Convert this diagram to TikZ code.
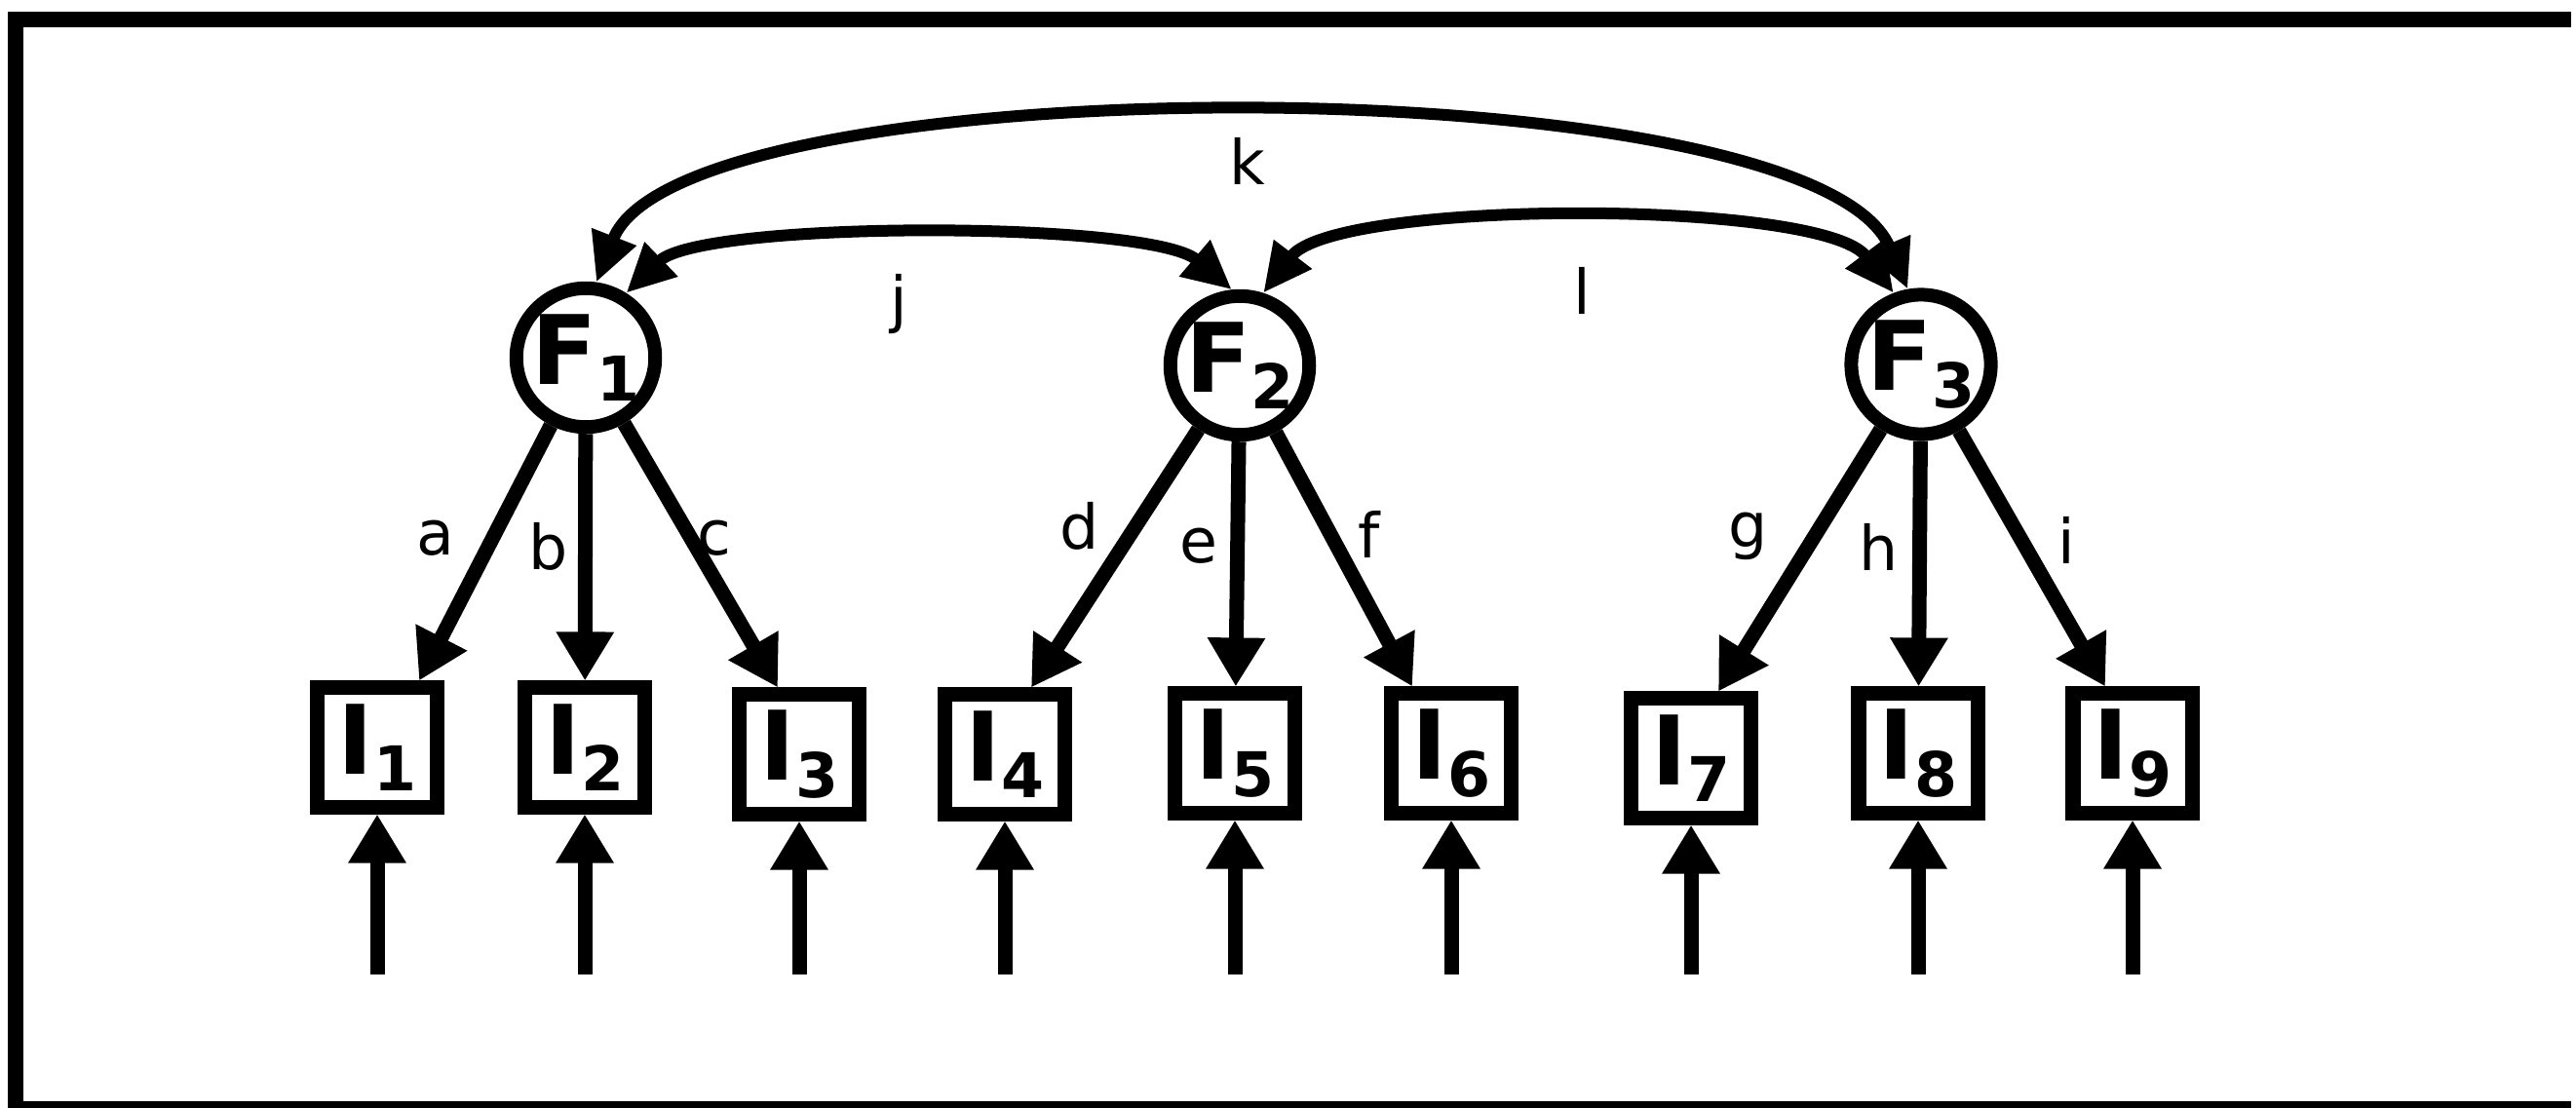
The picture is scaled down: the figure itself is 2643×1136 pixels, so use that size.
\documentclass[tikz,border=0pt]{standalone}
\usepackage{fontspec}
\setmainfont{DejaVu Sans}
\usetikzlibrary{arrows.meta}
\tikzset{
  frame/.style={line width=0.15cm},
  fac/.style={circle, draw, line width=0.14cm, minimum size=1.36cm, inner sep=0pt,
    font=\fontsize{28}{28}\selectfont\bfseries},
  ind/.style={rectangle, draw, line width=0.15cm, minimum size=1.22cm, inner sep=0pt,
    font=\fontsize{28}{28}\selectfont\bfseries},
  load/.style={line width=0.15cm, -{Triangle[length=0.5cm,width=0.56cm]}},
  cov/.style={line width=0.12cm,
    {Triangle[length=0.5cm,width=0.46cm]}-{Triangle[length=0.5cm,width=0.46cm]}},
  lbl/.style={font=\fontsize{18}{18}\selectfont, inner sep=0pt}
}
\newcommand{\varsub}[2]{#1\raisebox{-5pt}{\fontsize{18}{18}\selectfont #2}}
\begin{document}
\begin{tikzpicture}[x=0.01cm,y=-0.01cm]
\useasboundingbox (0,0) rectangle (2643,1136);
\draw[frame] (2638,20) -- (16,20) -- (16,1137) -- (2638,1137);
% factors
\node[fac] (F1) at (601,367) {\varsub{F}{1}};
\node[fac] (F2) at (1272,375) {\varsub{F}{2}};
\node[fac] (F3) at (1971,374) {\varsub{F}{3}};
% indicators and their error arrows
\foreach \n/\x/\y in {1/387/767, 2/600/767, 3/820/774, 4/1031/774, 5/1267/773,
                      6/1489/773, 7/1735/778, 8/1968/773, 9/2188/773}{
  \node[ind] (I\n) at (\x,\y) {\varsub{I}{\n}};
  \coordinate (u\n) at (\x,1000);
  \draw[load] (u\n) -- (I\n);
}
% loadings
\draw[load] (F1) -- ([xshift=0.43cm]I1.north);
\draw[load] (F1) -- (I2);
\draw[load] (F1) -- ([xshift=-0.22cm]I3.north);
\draw[load] (F2) -- ([xshift=0.27cm]I4.north);
\draw[load] (F2) -- (I5);
\draw[load] (F2) -- ([xshift=-0.4cm]I6.north);
\draw[load] (F3) -- ([xshift=0.28cm]I7.north);
\draw[load] (F3) -- (I8);
\draw[load] (F3) -- ([xshift=-0.28cm]I9.north);
\node[lbl] (la) at (447,552) {a};
\node[lbl] (lb) at (563,561) {b};
\node[lbl] (lc) at (733,552) {c};
\node[lbl] (ld) at (1108,540) {d};
\node[lbl] (le) at (1230,560) {e};
\node[lbl] (lf) at (1405,548) {f};
\node[lbl] (lg) at (1794,550) {g};
\node[lbl] (lh) at (1928,561) {h};
\node[lbl] (li) at (2120,554) {i};
% factor covariances
\draw[cov] (F1.82) .. controls (700,64) and (1857,64) .. (F3.100);
\draw[cov] (F1.58) .. controls (720,226) and (1180,226) .. (F2.96);
\draw[cov] (F2.72) .. controls (1370,204) and (1870,204) .. (F3.111);
\node[lbl] (lj) at (922,312) {j};
\node[lbl] (lk) at (1280,165) {k};
\node[lbl] (ll) at (1623,298) {l};
\end{tikzpicture}
\end{document}
